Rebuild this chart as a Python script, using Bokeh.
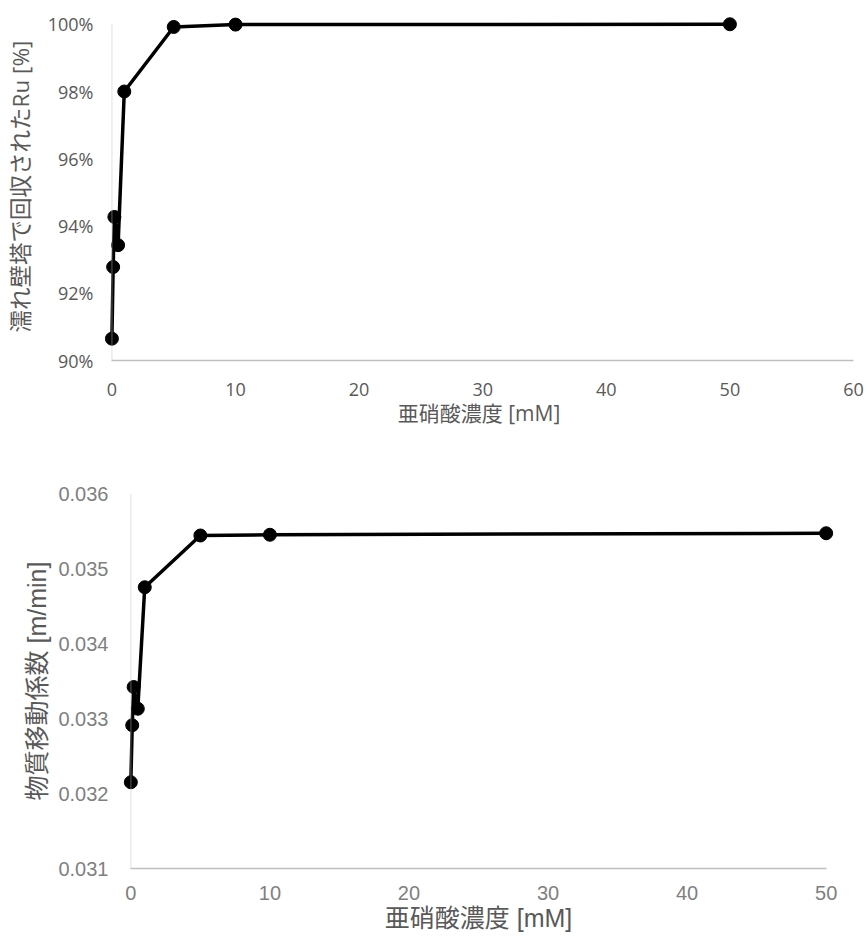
from bokeh.plotting import figure
from bokeh.layouts import column, row
from bokeh.models import Range1d, FixedTicker, PrintfTickFormatter, BoxAnnotation
from bokeh.embed import file_html
from bokeh.resources import INLINE

# Nitrite concentration [mM] and measured results
nitrite_mM = [0, 0.1, 0.2, 0.5, 1, 5, 10, 50]
ru_recovered_pct = [90.65, 92.78, 94.27, 93.43, 98.0, 99.92, 99.99, 100.0]
mass_transfer_coef = [0.03215, 0.03291, 0.03342, 0.03313, 0.03475, 0.03544, 0.03545, 0.03547]

top_x_ticks = [0, 10, 20, 30, 40, 50, 60]
top_y_ticks = [90, 92, 94, 96, 98, 100]
bottom_x_ticks = [0, 10, 20, 30, 40, 50]
bottom_y_ticks = [0.031, 0.032, 0.033, 0.034, 0.035, 0.036]

x_title = "亜硝酸濃度 [mM]"
top_y_title = "濡れ壁塔で回収されたRu [%]"
bottom_y_title = "物質移動係数 [m/min]"

AXIS_GRAY = "#bfbfbf"
TOP_FONT = "'Open Sans', 'Noto Sans CJK JP'"
BOTTOM_FONT = "'Liberation Sans', 'Noto Sans CJK JP'"


def style(p, font, tick_color, title_color, tick_size, title_size):
    p.xgrid.visible = False
    p.ygrid.visible = False
    p.outline_line_color = None
    p.background_fill_color = "white"
    p.border_fill_color = "white"
    for ax in (p.xaxis[0], p.yaxis[0]):
        ax.axis_line_color = AXIS_GRAY
        ax.axis_line_width = 1.6
        ax.major_tick_line_color = None
        ax.minor_tick_line_color = None
        ax.major_label_text_font = font
        ax.major_label_text_font_size = tick_size
        ax.major_label_text_color = tick_color
        ax.axis_label_text_font = font
        ax.axis_label_text_font_size = title_size
        ax.axis_label_text_color = title_color
        ax.axis_label_text_font_style = "normal"
    # the y axis line is drawn at x = 0 (the frame starts slightly left of it
    # so the markers at zero concentration are not clipped)
    p.yaxis.axis_line_color = None


def zero_line(p, y0, y1):
    p.add_layout(BoxAnnotation(left=0, right=0, bottom=y0, top=y1,
                               fill_alpha=0, line_color=AXIS_GRAY, line_width=1.6))


# --- upper chart: Ru recovered in the wetted-wall column ---
top = figure(
    frame_width=749, frame_height=348,
    min_border_left=104, min_border_right=14,
    min_border_top=12, min_border_bottom=70,
    x_range=Range1d(-0.6, 60), y_range=Range1d(90, 100.35),
    output_backend="svg", toolbar_location=None,
)
top.xaxis.ticker = FixedTicker(ticks=top_x_ticks)
top.yaxis.ticker = FixedTicker(ticks=top_y_ticks)
top.yaxis.formatter = PrintfTickFormatter(format="%d%%")
top.xaxis.bounds = (0, 60)
top.xaxis.axis_label = x_title
top.yaxis.axis_label = top_y_title
style(top, TOP_FONT, "#595959", "#595959", "18px", "21px")
top.yaxis.axis_label_text_font_size = "22.5px"
zero_line(top, 90, 100)
top.xaxis.major_label_standoff = 16
top.yaxis.major_label_standoff = 5
top.xaxis.axis_label_standoff = 0
top.yaxis.axis_label_standoff = 9
top.line(nitrite_mM, ru_recovered_pct, line_color="black", line_width=3.5)
top.scatter(nitrite_mM, ru_recovered_pct, size=13, fill_color="black", line_color="black")

# --- lower chart: mass transfer coefficient ---
bottom = figure(
    frame_width=712, frame_height=375,
    min_border_left=122, min_border_right=33,
    min_border_top=63, min_border_bottom=72,
    x_range=Range1d(-0.6, 50.6), y_range=Range1d(0.031, 0.036),
    output_backend="svg", toolbar_location=None,
)
bottom.xaxis.ticker = FixedTicker(ticks=bottom_x_ticks)
bottom.yaxis.ticker = FixedTicker(ticks=bottom_y_ticks)
bottom.yaxis.formatter = PrintfTickFormatter(format="%.3f")
bottom.xaxis.bounds = (0, 50)
bottom.xaxis.axis_label = x_title
bottom.yaxis.axis_label = bottom_y_title
style(bottom, BOTTOM_FONT, "#7f7f7f", "#595959", "20px", "25px")
zero_line(bottom, 0.031, 0.036)
bottom.xaxis.major_label_standoff = 11
bottom.yaxis.major_label_standoff = 8
bottom.xaxis.axis_label_standoff = 1
bottom.yaxis.axis_label_standoff = 4
bottom.line(nitrite_mM, mass_transfer_coef, line_color="black", line_width=3.5)
bottom.scatter(nitrite_mM, mass_transfer_coef, size=13, fill_color="black", line_color="black")

layout = column(row(top), row(bottom), spacing=0)
open("out.html", "w").write(file_html(layout, INLINE))
